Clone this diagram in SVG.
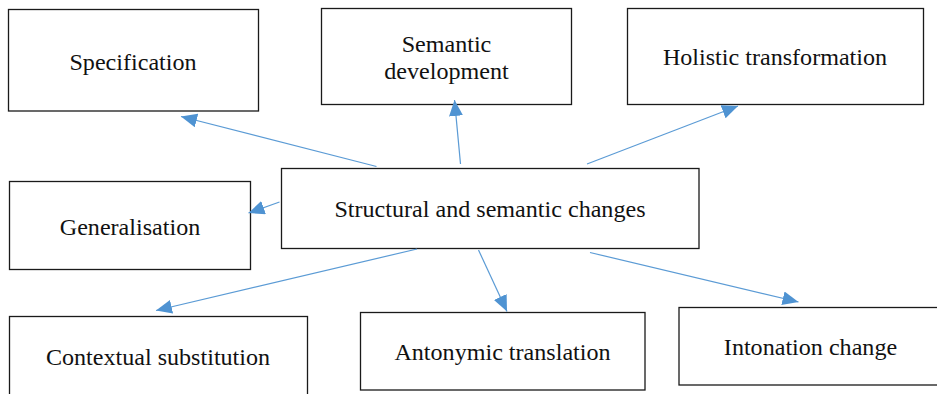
<svg xmlns="http://www.w3.org/2000/svg" width="937" height="394" viewBox="0 0 937 394">
<defs>
<style>
.box{fill:#fff;stroke:#1a1a1a;stroke-width:1.3}
.t{font-family:"Liberation Serif","Times New Roman",serif;font-size:24.1px;fill:#111;text-anchor:middle}
.c{stroke:#5b9bd5;stroke-width:1.2;fill:none;marker-end:url(#ah)}
</style>
<marker id="ah" markerUnits="userSpaceOnUse" markerWidth="17" markerHeight="14" refX="16" refY="7" orient="auto">
<path d="M0,0 L16,7 L0,14 z" fill="#4f93d2"/>
</marker>
</defs>
<rect width="937" height="394" fill="#fff"/>
<g id="spec"><rect class="box" x="8.5" y="9.5" width="250" height="101.5"/><text class="t" x="133" y="70">Specification</text></g>
<g id="semdev"><rect class="box" x="321.5" y="8.5" width="250" height="96"/><text class="t" x="446.5" y="52">Semantic</text><text class="t" x="446.5" y="79">development</text></g>
<g id="holistic"><rect class="box" x="627.5" y="8.5" width="296" height="96"/><text class="t" x="775" y="65">Holistic transformation</text></g>
<g id="general"><rect class="box" x="9.5" y="181.5" width="241" height="88"/><text class="t" x="130" y="235">Generalisation</text></g>
<g id="central"><rect class="box" x="281.5" y="168.5" width="417.5" height="80"/><text class="t" x="490" y="217">Structural and semantic changes</text></g>
<g id="contextual"><rect class="box" x="9.5" y="316.5" width="298" height="90"/><text class="t" x="158" y="365">Contextual substitution</text></g>
<g id="antonymic"><rect class="box" x="360.5" y="312.5" width="284.5" height="77.5"/><text class="t" x="502.5" y="360">Antonymic translation</text></g>
<g id="intonation"><rect class="box" x="679" y="307.5" width="265" height="77.5"/><text class="t" x="810.5" y="355">Intonation change</text></g>
<g id="connectors">
<line class="c" x1="376.5" y1="166.5" x2="181" y2="116.5"/>
<line class="c" x1="460.5" y1="164" x2="454.5" y2="100"/>
<line class="c" x1="587" y1="164" x2="738" y2="106"/>
<line class="c" x1="279.5" y1="202" x2="248.5" y2="213"/>
<line class="c" x1="417" y1="249" x2="156" y2="310.5"/>
<line class="c" x1="478.5" y1="250" x2="507" y2="311.5"/>
<line class="c" x1="590" y1="252.5" x2="798.5" y2="302"/>
</g>
</svg>
